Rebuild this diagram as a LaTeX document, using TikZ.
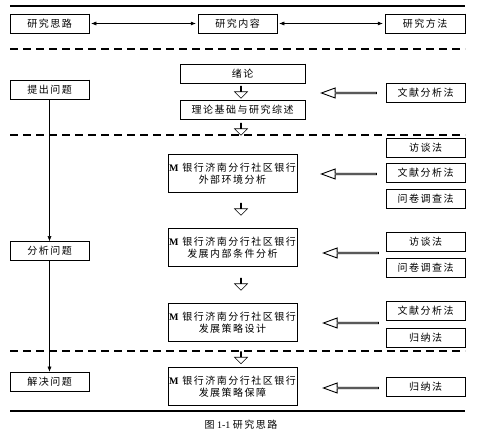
\documentclass[tikz,border=0pt]{standalone}
\usepackage{fontspec}
\setmainfont{Liberation Serif}
\newfontfamily\cjk[LetterSpace=15]{Noto Sans CJK SC}
\usetikzlibrary{shapes.arrows,arrows.meta}

\begin{document}
\begin{tikzpicture}[
    x = 1pt, y = -1pt,
    box/.style = {
        draw,
        line width = 0.5pt,
        inner sep = 0pt,
        minimum width = 79pt,
        minimum height = 19pt,
        font = \cjk\fontsize{10}{12}\selectfont,
        align = center
    },
    stage/.style = {box, minimum width = 125pt},
    bank/.style = {box, minimum width = 129pt, minimum height = 38pt},
    hollowleft/.style = {
        single arrow, draw, fill = white,
        line width = 0.9pt,
        rotate = 180,
        minimum height = 55pt,
        minimum width = 10pt,
        single arrow head extend = 2.5pt,
        single arrow tip angle = 40,
        inner sep = 0pt
    },
    hollowdown/.style = {
        single arrow, draw, fill = white,
        line width = 0.6pt,
        rotate = -90,
        minimum height = 12pt,
        minimum width = 13pt,
        single arrow head extend = 3.5pt,
        inner sep = 0pt
    },
    link/.style = {line width = 0.5pt, -{Latex[length = 5pt, width = 4pt]}},
    biglink/.style = {line width = 0.5pt, {Latex[length = 5pt, width = 4pt]}-{Latex[length = 5pt, width = 4pt]}, shorten <= 2pt, shorten >= 2pt},
    rule/.style = {line width = 2.8pt},
    dashrule/.style = {line width = 2pt, dash pattern = on 8pt off 5pt}
]
\useasboundingbox (0, 0) rectangle (485, 435);

% Rules
\draw[rule] (10, 6) -- (465, 6);
\draw[dashrule] (10, 49) -- (465, 49);
\draw[dashrule] (10, 135) -- (465, 135);
\draw[dashrule] (10, 351) -- (465, 351);
\draw[rule] (10, 411) -- (465, 411);

% Header row
\node[box] (silu) at (49.5, 23.5) {研究思路};
\node[box] (neirong) at (237.5, 23.5) {研究内容};
\node[box, minimum width = 80pt] (fangfa) at (425, 23.5) {研究方法};
\draw[biglink] (silu) -- (neirong);
\draw[biglink] (neirong) -- (fangfa);

% Research steps
\node[box] (tichu) at (49.5, 89.5) {提出问题};
\node[box] (fenxi) at (49.5, 251) {分析问题};
\node[box] (jiejue) at (49.5, 381.5) {解决问题};
\draw[link] (tichu) -- (fenxi);
\draw[link] (fenxi) -- (jiejue);

% Research content
\node[stage] (xulun) at (242.5, 73.5) {绪论};
\node[stage] (lilun) at (242.5, 110) {理论基础与研究综述};
\node[bank] (waibu) at (232.5, 173.5) {{\rmfamily\bfseries M} 银行济南分行社区银行\\外部环境分析};
\node[bank] (neibu) at (232.5, 247.5) {{\rmfamily\bfseries M} 银行济南分行社区银行\\发展内部条件分析};
\node[bank] (sheji) at (232.5, 322.5) {{\rmfamily\bfseries M} 银行济南分行社区银行\\发展策略设计};
\node[bank] (baozhang) at (232.5, 386.5) {{\rmfamily\bfseries M} 银行济南分行社区银行\\发展策略保障};

% Flow between contents
\node[hollowdown] (d1) at (241, 92) {};
\node[hollowdown] (d2) at (241, 129) {};
\node[hollowdown] (d3) at (241, 209) {};
\node[hollowdown] (d4) at (241, 284) {};
\node[hollowdown] (d5) at (241, 357.5) {};

% Research methods
\node[box] (wx1) at (425.5, 93) {文献分析法};
\node[box] (ft1) at (425.5, 147.5) {访谈法};
\node[box] (wx2) at (425.5, 172.5) {文献分析法};
\node[box] (wj1) at (425.5, 199) {问卷调查法};
\node[box] (ft2) at (425.5, 241.5) {访谈法};
\node[box] (wj2) at (425.5, 267.5) {问卷调查法};
\node[box] (wx3) at (425.5, 311) {文献分析法};
\node[box] (gn1) at (425.5, 337.5) {归纳法};
\node[box] (gn2) at (425.5, 387) {归纳法};

% Methods applied to contents
\node[hollowleft] (a1) at (350, 93) {};
\node[hollowleft] (a2) at (350, 174) {};
\node[hollowleft] (a3) at (352, 253) {};
\node[hollowleft] (a4) at (352, 323) {};
\node[hollowleft] (a5) at (352, 388) {};

% Shadowed edges
\foreach \n in {silu, neirong, fangfa, tichu, fenxi, jiejue, xulun, lilun, waibu, neibu, sheji, baozhang, wx1, ft1, wx2, wj1, ft2, wj2, wx3, gn1, gn2}
    \draw[line width = 1.1pt] (\n.north east) -- (\n.south east) -- (\n.south west);

% Caption
\node[font = \fontsize{10}{12}\selectfont] (caption) at (241, 425) {{\cjk 图} 1-1 {\cjk 研究思路}};

\end{tikzpicture}
\end{document}
